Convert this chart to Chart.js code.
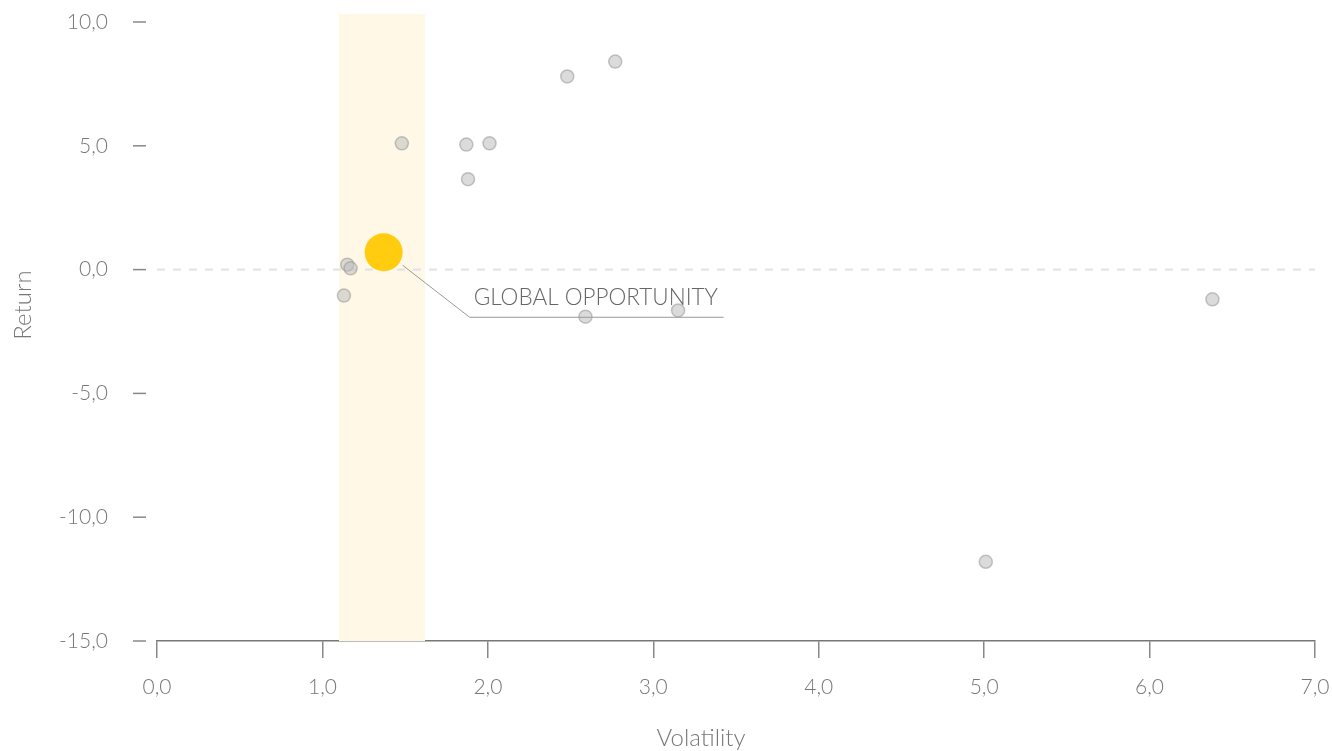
<!DOCTYPE html>
<html>
<head>
<meta charset="utf-8">
<script src="https://cdn.jsdelivr.net/npm/chart.js@4/dist/chart.umd.min.js"></script>
<style>
  html, body { margin: 0; padding: 0; background: #fff; }
  #wrap { width: 1332px; height: 751px; }
</style>
</head>
<body>
<div id="wrap"><canvas id="riskChart"></canvas></div>
<script>
const volatility = [1.48, 1.87, 2.01, 1.88, 2.48, 2.77, 1.15, 1.17, 1.13, 2.59, 3.15, 6.38, 5.01];
const returns = [5.1, 5.05, 5.1, 3.65, 7.8, 8.4, 0.2, 0.05, -1.05, -1.9, -1.65, -1.2, -11.8];
const highlightName = 'GLOBAL OPPORTUNITY';
const highlightPoint = { x: 1.37, y: 0.7 };
const bandRange = [1.1, 1.62];
const xTicks = [0, 1, 2, 3, 4, 5, 6, 7];
const yTicks = [-15, -10, -5, 0, 5, 10];
const xTitle = 'Volatility';
const yTitle = 'Return';

const fmt = (v) => v.toFixed(1).replace('.', ',');
const FONT = 'Lato, "Open Sans", sans-serif';

const decorPlugin = {
	id: 'decor',
	beforeDatasetsDraw(chart) {
		const { ctx, chartArea, scales } = chart;
		const x = scales.x, y = scales.y;
		ctx.save();
		// band
		const bx1 = x.getPixelForValue(bandRange[0]);
		const bx2 = x.getPixelForValue(bandRange[1]);
		ctx.fillStyle = '#fff8e6';
		ctx.fillRect(bx1, chartArea.top - 8, bx2 - bx1, chartArea.bottom - chartArea.top + 8);
		// zero line
		const y0 = y.getPixelForValue(0);
		ctx.strokeStyle = '#e2e2e2';
		ctx.lineWidth = 2;
		ctx.setLineDash([8, 8]);
		ctx.beginPath();
		ctx.moveTo(chartArea.left, y0);
		ctx.lineTo(chartArea.right, y0);
		ctx.stroke();
		ctx.setLineDash([]);
		// y tick dashes
		ctx.strokeStyle = '#888';
		ctx.lineWidth = 1.5;
		yTicks.forEach((t) => {
			const py = y.getPixelForValue(t);
			ctx.beginPath();
			ctx.moveTo(chartArea.left - 24, py);
			ctx.lineTo(chartArea.left - 11, py);
			ctx.stroke();
		});
		ctx.restore();
	},
	afterDatasetsDraw(chart) {
		const { ctx, scales } = chart;
		const x = scales.x, y = scales.y;
		const hx = x.getPixelForValue(highlightPoint.x);
		const hy = y.getPixelForValue(highlightPoint.y);
		ctx.save();
		ctx.strokeStyle = '#999';
		ctx.lineWidth = 1;
		ctx.beginPath();
		ctx.moveTo(hx + 19, hy + 13);
		ctx.lineTo(hx + 86, hy + 65);
		ctx.lineTo(hx + 340, hy + 65);
		ctx.stroke();
		ctx.fillStyle = '#666';
		ctx.font = '300 22.5px ' + FONT;
		ctx.textBaseline = 'alphabetic';
		ctx.fillText(highlightName, hx + 90, hy + 53);

		// axis titles
		ctx.fillStyle = '#777';
		ctx.font = '300 24px ' + FONT;
		ctx.textAlign = 'center';
		ctx.textBaseline = 'middle';
		ctx.fillText(xTitle, 701, 738);
		ctx.translate(23, 305);
		ctx.rotate(-Math.PI / 2);
		ctx.fillText(yTitle, 0, 0);
		ctx.restore();
	},
};

new Chart(document.getElementById('riskChart'), {
	type: 'scatter',
	data: {
		datasets: [
			{
				data: volatility.map((v, i) => ({ x: v, y: returns[i] })),
				backgroundColor: 'rgba(190,190,190,0.55)',
				borderColor: 'rgba(150,150,150,0.55)',
				borderWidth: 1.5,
				pointRadius: 6.5,
			},
			{
				data: [highlightPoint],
				backgroundColor: '#ffcc0f',
				borderWidth: 0,
				pointRadius: 19,
			},
		],
	},
	options: {
		responsive: true,
		maintainAspectRatio: false,
		animation: false,
		layout: { autoPadding: false, padding: { top: 22, right: 17, left: 0, bottom: 0 } },
		plugins: { legend: { display: false }, tooltip: { enabled: false } },
		scales: {
			x: {
				type: 'linear',
				min: 0,
				max: 7,
				afterBuildTicks: (s) => { s.ticks = xTicks.map((v) => ({ value: v })); },
				afterFit: (s) => { s.height = 110; s.paddingLeft = 0; s.paddingRight = 0; },
				border: { display: true, color: '#777', width: 1.5 },
				grid: { drawOnChartArea: false, drawTicks: true, tickLength: 17, color: '#888', lineWidth: 1.5 },
				ticks: { callback: (v) => fmt(v), color: '#777', font: { family: FONT, size: 21, weight: '300' }, padding: 17 },
			},
			y: {
				type: 'linear',
				min: -15,
				max: 10,
				afterBuildTicks: (s) => { s.ticks = yTicks.map((v) => ({ value: v })); },
				afterFit: (s) => { s.width = 157; s.paddingTop = 0; s.paddingBottom = 0; },
				border: { display: false },
				grid: { display: false },
				ticks: { callback: (v) => fmt(v), color: '#777', font: { family: FONT, size: 21, weight: '300' }, padding: 41 },
			},
		},
	},
	plugins: [decorPlugin],
});
</script>
</body>
</html>
